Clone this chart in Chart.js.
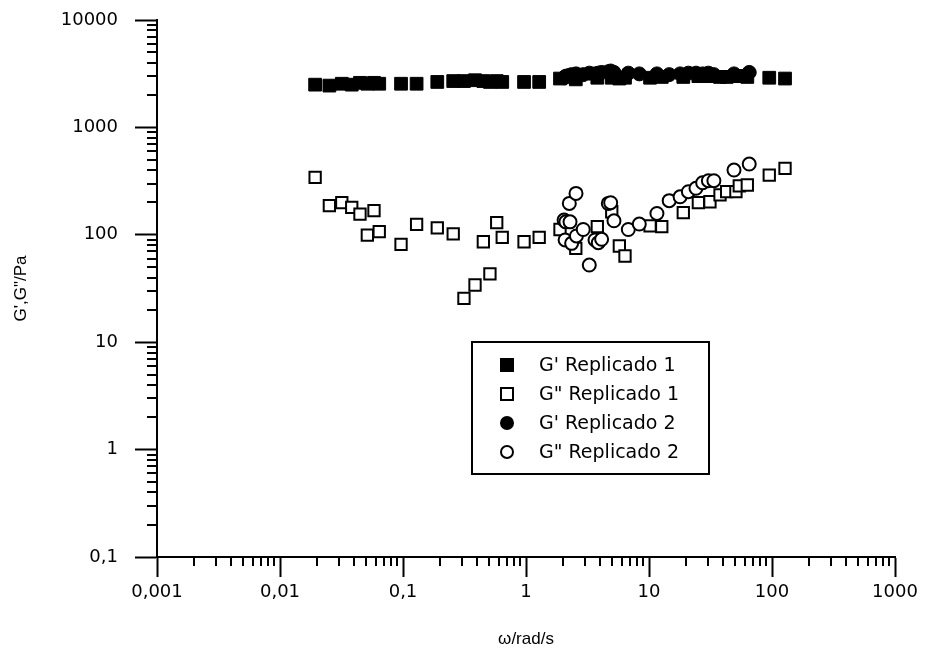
<!DOCTYPE html>
<html>
<head>
<meta charset="utf-8">
<script src="https://cdn.jsdelivr.net/npm/chart.js@4.4.0/dist/chart.umd.min.js"></script>
<style>
  html, body { margin: 0; padding: 0; background: #fff; }
</style>
</head>
<body>
<canvas id="myChart" width="925" height="657"></canvas>
<script>
// frecuencias (rad/s) y módulos (Pa)
const freqRep1 = [0.0193, 0.0252, 0.0318, 0.0383, 0.0447, 0.0513, 0.0581, 0.0641, 0.0964, 0.129,
    0.190, 0.256, 0.313, 0.385, 0.450, 0.509, 0.578, 0.641, 0.964, 1.28,
    1.89, 2.54, 3.80, 4.98, 5.74, 6.38, 10.2, 12.7, 19.0, 25.2,
    31.3, 37.8, 42.8, 50.9, 54.2, 63.0, 95.0, 127.6];
const gPrimeRep1 = [2500, 2450, 2550, 2500, 2600, 2550, 2600, 2550, 2550, 2550,
    2650, 2700, 2700, 2750, 2700, 2650, 2700, 2650, 2650, 2650,
    2850, 2800, 2900, 2900, 2850, 2900, 2900, 2950, 2950, 3000,
    3000, 2950, 2950, 3000, 3000, 2950, 2900, 2850];
const gDoubleRep1 = [343, 187, 199, 180, 156, 99.5, 168, 107, 81.6, 125,
    116, 102, 25.6, 34.1, 86.2, 43.2, 130, 94.8, 86.2, 94.8,
    112, 74.8, 119, 164, 78.7, 63.5, 121, 119, 161, 199,
    203, 235, 252, 252, 285, 291, 360, 416];

const freqRep2 = [2.04, 2.08, 2.11, 2.25, 2.28, 2.35, 2.55, 2.57, 2.92, 3.27,
    3.64, 3.87, 4.12, 4.67, 4.88, 5.19, 6.79, 8.34, 11.6, 14.6,
    17.9, 20.9, 24.1, 27.3, 30.4, 33.7, 49.1, 65.3];
const gPrimeRep2 = [2900, 2950, 3000, 3050, 3000, 3100, 3150, 3100, 3100, 3200,
    3150, 3200, 3250, 3300, 3350, 3250, 3200, 3150, 3150, 3100,
    3150, 3200, 3200, 3150, 3200, 3100, 3150, 3250];
const gDoubleRep2 = [137, 89.5, 132, 196, 132, 83.3, 243, 97.5, 112, 52.3,
    89.5, 84.4, 90.8, 196, 199, 135, 112, 126, 158, 208,
    226, 252, 271, 305, 319, 319, 401, 456];

const seriesLabels = ["G' Replicado 1", 'G" Replicado 1', "G' Replicado 2", 'G" Replicado 2'];

// ticks: décadas con etiqueta, 2..9 sin etiqueta
function logTicks(minExp, maxExp) {
    const out = [];
    for (let e = minExp; e < maxExp; e++) {
        for (let m = 1; m <= 9; m++) out.push(Number((m * Math.pow(10, e)).toPrecision(6)));
    }
    out.push(Math.pow(10, maxExp));
    return out;
}
const xTickValues = logTicks(-3, 3);
const yTickValues = logTicks(-1, 4);

function isMajor(v) {
    const l = Math.log10(v);
    return Math.abs(l - Math.round(l)) < 1e-9;
}
function fmtTick(v) {
    if (!isMajor(v)) return '';
    const e = Math.round(Math.log10(v));
    const s = e < 0 ? (1 / Math.pow(10, -e)).toFixed(-e) : String(Math.pow(10, e));
    return s.replace('.', ',');
}

function toPoints(xs, ys) {
    return xs.map((x, i) => ({ x: x, y: ys[i] }));
}

const TICK_FONT = { family: "'DejaVu Sans', Arial, sans-serif", size: 18 };
const TITLE_FONT = { family: "'Liberation Sans', Arial, sans-serif", size: 17 };

// marcas menores de los ejes
const minorTicks = {
    id: 'minorTicks',
    afterDraw(chart) {
        const ctx = chart.ctx;
        const xs = chart.scales.x, ys = chart.scales.y;
        ctx.save();
        ctx.strokeStyle = '#000';
        ctx.lineWidth = 2;
        ctx.beginPath();
        xTickValues.filter(v => !isMajor(v)).forEach(v => {
            const px = Math.round(xs.getPixelForValue(v));
            ctx.moveTo(px, xs.top);
            ctx.lineTo(px, xs.top + 9);
        });
        yTickValues.filter(v => !isMajor(v)).forEach(v => {
            const py = Math.round(ys.getPixelForValue(v));
            ctx.moveTo(ys.right, py);
            ctx.lineTo(ys.right - 10, py);
        });
        ctx.stroke();
        ctx.restore();
    }
};

// leyenda dentro del área
const legendBox = {
    id: 'legendBox',
    afterDraw(chart) {
        const ctx = chart.ctx;
        ctx.save();
        ctx.fillStyle = '#fff';
        ctx.fillRect(472, 342, 237, 132);
        ctx.strokeStyle = '#000';
        ctx.lineWidth = 2;
        ctx.strokeRect(472, 342, 237, 132);
        const rows = [365, 394, 423, 452];
        const mx = 507;
        rows.forEach((y, i) => {
            ctx.lineWidth = 2;
            ctx.beginPath();
            if (i === 0) {
                ctx.fillStyle = '#000';
                ctx.fillRect(mx - 7, y - 7, 14, 14);
            } else if (i === 1) {
                ctx.strokeRect(mx - 6, y - 6, 12, 12);
            } else if (i === 2) {
                ctx.fillStyle = '#000';
                ctx.arc(mx, y, 7, 0, Math.PI * 2);
                ctx.fill();
            } else {
                ctx.arc(mx, y, 6, 0, Math.PI * 2);
                ctx.stroke();
            }
            ctx.fillStyle = '#000';
            ctx.font = "19px 'DejaVu Sans', Arial, sans-serif";
            ctx.textBaseline = 'middle';
            ctx.textAlign = 'left';
            ctx.fillText(seriesLabels[i], 539, y + 1);
        });
        ctx.restore();
    }
};

const ctx = document.getElementById('myChart').getContext('2d');
const myChart = new Chart(ctx, {
    type: 'scatter',
    data: {
        datasets: [
            {
                label: seriesLabels[0],
                data: toPoints(freqRep1, gPrimeRep1),
                pointStyle: 'rect', pointRadius: 9,
                backgroundColor: '#000', borderColor: '#000', borderWidth: 1,
                order: 3
            },
            {
                label: seriesLabels[1],
                data: toPoints(freqRep1, gDoubleRep1),
                pointStyle: 'rect', pointRadius: 8,
                backgroundColor: '#fff', borderColor: '#000', borderWidth: 2,
                order: 1
            },
            {
                label: seriesLabels[2],
                data: toPoints(freqRep2, gPrimeRep2),
                pointStyle: 'circle', pointRadius: 7,
                backgroundColor: '#000', borderColor: '#000', borderWidth: 1,
                order: 2
            },
            {
                label: seriesLabels[3],
                data: toPoints(freqRep2, gDoubleRep2),
                pointStyle: 'circle', pointRadius: 6.5,
                backgroundColor: '#fff', borderColor: '#000', borderWidth: 2,
                order: 0
            }
        ]
    },
    options: {
        responsive: false,
        animation: false,
        layout: { padding: { top: 20, right: 30, left: 0, bottom: 0 } },
        plugins: {
            legend: { display: false },
            tooltip: { enabled: false }
        },
        scales: {
            x: {
                type: 'logarithmic',
                min: 0.001,
                max: 1000,
                afterBuildTicks: s => { s.ticks = xTickValues.map(v => ({ value: v })); },
                afterFit: s => { s.height = 100; },
                border: { color: '#000', width: 2 },
                grid: {
                    drawOnChartArea: false,
                    tickLength: 20,
                    tickWidth: 2,
                    tickColor: c => (c.tick && isMajor(c.tick.value)) ? '#000' : 'rgba(0,0,0,0)'
                },
                ticks: {
                    autoSkip: false, maxRotation: 0, minRotation: 0,
                    padding: 5, color: '#000', font: TICK_FONT,
                    callback: v => fmtTick(v)
                },
                title: {
                    display: true, text: 'ω/rad/s', color: '#000', font: TITLE_FONT,
                    padding: { top: 0, bottom: 7 }
                }
            },
            y: {
                type: 'logarithmic',
                min: 0.1,
                max: 10000,
                afterBuildTicks: s => { s.ticks = yTickValues.map(v => ({ value: v })); },
                afterFit: s => { s.width = 157; s.paddingTop = 10; s.paddingBottom = 10; },
                border: { color: '#000', width: 2 },
                grid: {
                    drawOnChartArea: false,
                    tickLength: 22,
                    tickWidth: 2,
                    tickColor: c => (c.tick && isMajor(c.tick.value)) ? '#000' : 'rgba(0,0,0,0)'
                },
                ticks: {
                    autoSkip: false, padding: 17, color: '#000', font: TICK_FONT,
                    callback: v => fmtTick(v)
                },
                title: {
                    display: true, text: 'G\',G"/Pa', color: '#000', font: TITLE_FONT,
                    padding: { top: 11, bottom: 0 }
                }
            }
        }
    },
    plugins: [minorTicks, legendBox]
});
</script>
</body>
</html>
